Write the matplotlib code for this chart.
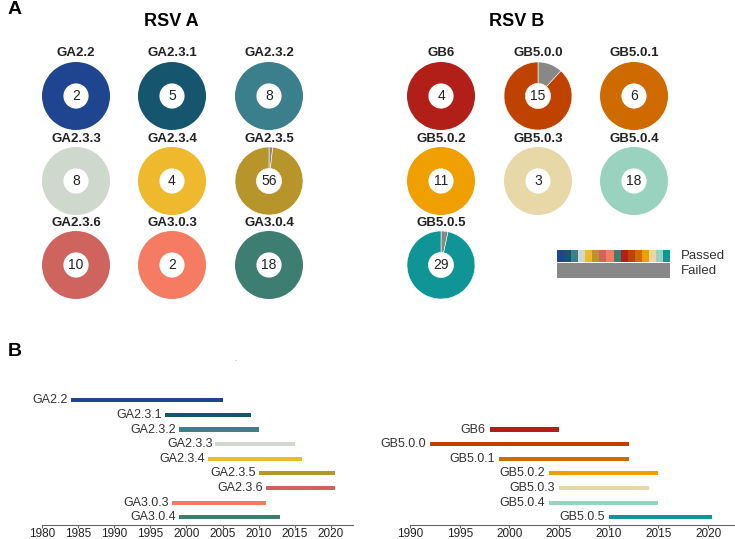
import matplotlib
matplotlib.use('Agg')
import matplotlib.pyplot as plt

plt.rcParams['font.family'] = ['Liberation Sans', 'DejaVu Sans']

# RSV A lineages
lineages_a = ['GA2.2', 'GA2.3.1', 'GA2.3.2', 'GA2.3.3', 'GA2.3.4', 'GA2.3.5', 'GA2.3.6', 'GA3.0.3', 'GA3.0.4']
passed_a = [2, 5, 8, 8, 4, 56, 10, 2, 18]
failed_a = [0, 0, 0, 0, 0, 1, 0, 0, 0]
colors_a = ['#1f4591', '#15566e', '#3b7f8c', '#cfd8cd', '#efb92e', '#b8952b', '#cf645f', '#f57b63', '#3e7d71']
start_a = [1984, 1997, 1999, 2004, 2003, 2010, 2011, 1998, 1999]
end_a = [2005, 2009, 2010, 2015, 2016, 2020.5, 2020.5, 2011, 2013]

# RSV B lineages
lineages_b = ['GB6', 'GB5.0.0', 'GB5.0.1', 'GB5.0.2', 'GB5.0.3', 'GB5.0.4', 'GB5.0.5']
passed_b = [4, 15, 6, 11, 3, 18, 29]
failed_b = [0, 2, 0, 0, 0, 0, 1]
colors_b = ['#b21f18', '#bf4200', '#cf6a00', '#ef9f00', '#e8d8a8', '#99d3bf', '#0f9595']
start_b = [1998, 1992, 1999, 2004, 2005, 2004, 2010]
end_b = [2005, 2012, 2012, 2015, 2014, 2015, 2020.4]

failed_color = '#888888'
W, H = 735, 539

fig = plt.figure(figsize=(7.35, 5.39), dpi=100)


def px_axes(x0, y0, x1, y1):
    # axes placed by pixel box (top-left origin)
    return fig.add_axes([x0 / W, 1 - y1 / H, (x1 - x0) / W, (y1 - y0) / H])


def donuts(names, passed, failed, colors, col_x, row_y):
    for i, name in enumerate(names):
        cx = col_x[i % 3]
        cy = row_y[i // 3]
        ax = px_axes(cx - 42.5, cy - 42.5, cx + 42.5, cy + 42.5)
        if failed[i]:
            vals, cols, lw = [failed[i], passed[i]], [failed_color, colors[i]], 0.4
        else:
            vals, cols, lw = [passed[i]], [colors[i]], 0
        ax.pie(vals, colors=cols, startangle=90, counterclock=False,
               wedgeprops=dict(width=0.63, linewidth=lw, edgecolor='white'))
        ax.text(0, 0, str(passed[i]), ha='center', va='center', fontsize=10, color='#222222')
        ax.text(0, 1.25, name, ha='center', va='center', fontsize=9.5,
                fontweight='bold', color='#222222')


# panel A
fig.text(8 / W, 1 - 10 / H, 'A', fontsize=14, fontweight='bold', ha='left', va='center')
fig.text(171 / W, 1 - 21 / H, 'RSV A', fontsize=13, fontweight='bold', ha='center', va='center')
fig.text(517 / W, 1 - 21 / H, 'RSV B', fontsize=13, fontweight='bold', ha='center', va='center')

donuts(lineages_a, passed_a, failed_a, colors_a, [76, 172, 269], [96, 181, 265])
donuts(lineages_b, passed_b, failed_b, colors_b, [441, 538, 634], [96, 181, 265])

# legend strip
leg = px_axes(557, 249, 670, 278)
all_colors = colors_a + colors_b
leg.barh([0] * len(all_colors), [1] * len(all_colors), left=range(len(all_colors)),
         height=0.8, color=all_colors)
leg.barh([1], [len(all_colors)], left=0, height=1.0, color=failed_color)
leg.set_xlim(0, len(all_colors))
leg.set_ylim(1.5, -0.45)
leg.axis('off')
leg.text(17.5, 0, 'Passed', va='center', ha='left', fontsize=9.5, color='#333333')
leg.text(17.5, 1, 'Failed', va='center', ha='left', fontsize=9.5, color='#333333')

# panel B
fig.text(8 / W, 1 - 352 / H, 'B', fontsize=14, fontweight='bold', ha='left', va='center')
fig.text(236 / W, 1 - 361 / H, '-', fontsize=4, color='#888888', ha='center', va='center')


def timeline(ax, names, start, end, colors, rows, xmin, xmax, ticks):
    widths = [e - s for s, e in zip(start, end)]
    ax.barh(rows, widths, left=start, height=0.28, color=colors)
    for r, s, name in zip(rows, start, names):
        ax.text(s - 0.4, r, name, ha='right', va='center', fontsize=9, color='#333333')
    ax.set_xlim(xmin, xmax)
    ax.set_ylim(8.5, -0.5)
    ax.set_xticks(ticks)
    ax.set_yticks([])
    for side in ['left', 'top', 'right']:
        ax.spines[side].set_visible(False)
    ax.spines['bottom'].set_color('#666666')
    ax.spines['bottom'].set_linewidth(0.8)
    ax.tick_params(axis='x', labelsize=8.5, length=2, pad=0.5, color='#666666', labelcolor='#222222')
    ax.patch.set_alpha(0)


axl = px_axes(41.7, 393, 352.7, 524.5)
timeline(axl, lineages_a, start_a, end_a, colors_a, list(range(9)),
         1980, 2023, list(range(1980, 2021, 5)))

axr = px_axes(410, 393, 734, 524.5)
timeline(axr, lineages_b, start_b, end_b, colors_b, list(range(2, 9)),
         1990, 2022.6, list(range(1990, 2021, 5)))

fig.savefig('out.png', dpi=100)
